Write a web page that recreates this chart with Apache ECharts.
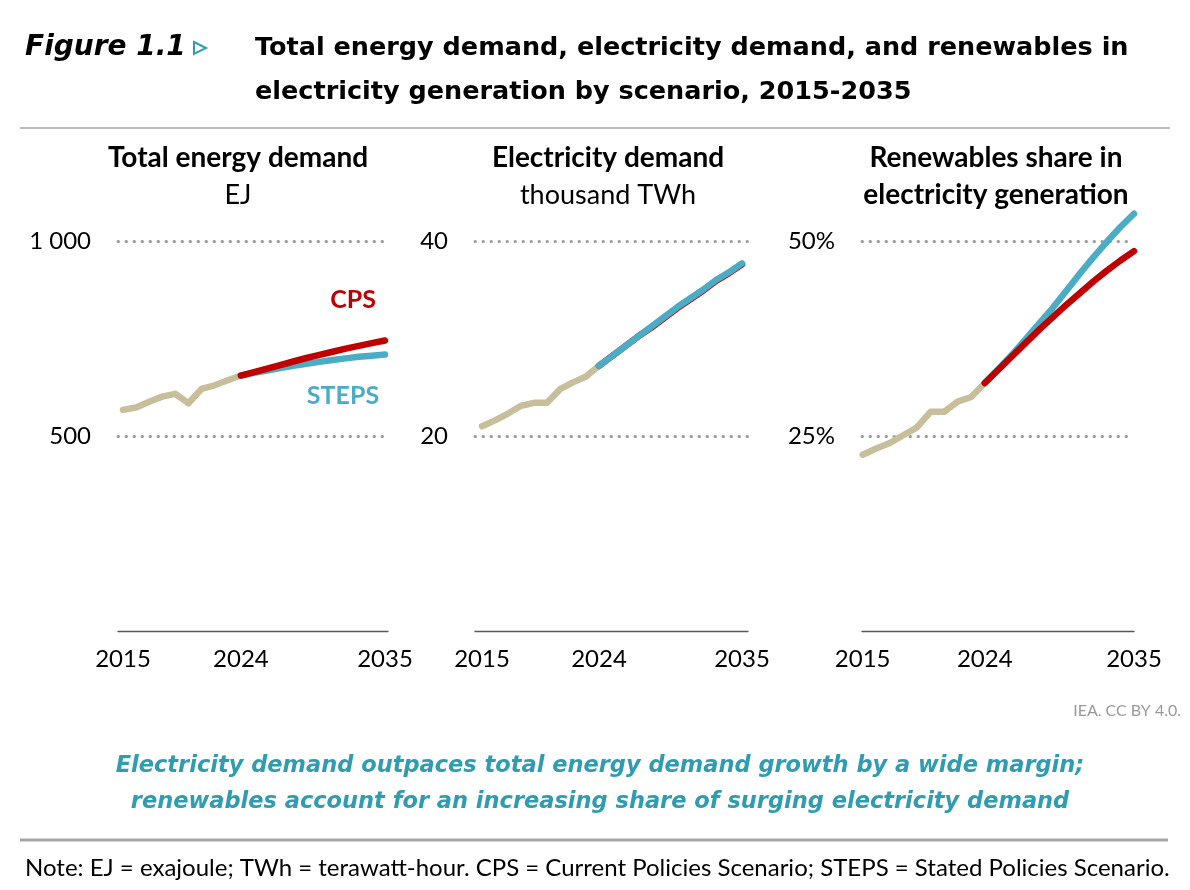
<!DOCTYPE html>
<html><head><meta charset="utf-8">
<script src="https://cdn.jsdelivr.net/npm/echarts@6/dist/echarts.min.js"></script>
<style>html,body{margin:0;padding:0;background:#fff}#c{width:1190px;height:890px}</style>
</head><body><div id="c"></div>
<script>
// ---- data ----
const histYears = [2015,2016,2017,2018,2019,2020,2021,2022,2023,2024];
const projYears = [2024,2025,2026,2027,2028,2029,2030,2031,2032,2033,2034,2035];
const xTickLabels = [2015, 2024, 2035];

const energyHist  = [567,573,588,601,608,584,621,630,643,655];
const energyCPS   = [655,664,673,682,691,700,708,716,724,731,738,745];
const energySTEPS = [655,662,668,674,680,685,690,695,699,703,706,709];

const elecHist  = [21.0,21.6,22.3,23.1,23.4,23.4,24.8,25.5,26.1,27.2];
const elecCPS   = [27.2,28.2,29.2,30.2,31.1,32.1,33.1,34.0,34.9,35.9,36.7,37.6];
const elecSTEPS = [27.2,28.2,29.2,30.2,31.2,32.2,33.2,34.1,35.0,36.0,36.8,37.7];

const renHist  = [22.6,23.4,24.1,25.1,26.1,28.1,28.1,29.4,30.0,31.8];
const renCPS   = [31.8,33.5,35.2,36.9,38.6,40.2,41.8,43.3,44.8,46.2,47.5,48.7];
const renSTEPS = [31.8,33.6,35.4,37.4,39.4,41.4,43.6,45.8,47.9,49.9,51.8,53.5];

// ---- styles ----
const C_HIST = '#C7BE9C', C_CPS = '#C00000', C_STEPS = '#4BACC6';
const FONT = 'Lato';
const zip = (xs, ys) => xs.map((x, i) => [x, ys[i]]);

const panels = [
  {left:118, width:270, xmin:2014.62, xmax:2035.23, ymax:1000, step:500,
   fmt: v => v === 1000 ? '1 000' : String(v),
   series:[['hist',energyHist],['steps',energySTEPS],['cps',energyCPS]]},
  {left:475, width:273, xmin:2014.46, xmax:2035.46, ymax:40, step:20,
   fmt: v => String(v),
   series:[['hist',elecHist],['cps',elecCPS],['steps',elecSTEPS]]},
  {left:862, width:272, xmin:2014.95, xmax:2035.0, ymax:50, step:25,
   fmt: v => v + '%',
   series:[['hist',renHist],['steps',renSTEPS],['cps',renCPS]]}
];

const grid = [], xAxis = [], yAxis = [], series = [];
panels.forEach((p, i) => {
  grid.push({left:p.left, width:p.width, top:241, height:390});
  xAxis.push({type:'value', gridIndex:i, min:p.xmin, max:p.xmax,
    axisLine:{show:true, lineStyle:{color:'#595959', width:1.3}},
    axisTick:{show:false}, splitLine:{show:false},
    axisLabel:{customValues:xTickLabels, color:'#000', fontFamily:FONT, fontSize:24, margin:16,
      formatter: v => String(v)}});
  yAxis.push({type:'value', gridIndex:i, min:0, max:p.ymax, interval:p.step,
    axisLine:{show:false}, axisTick:{show:false},
    splitLine:{show:true, showMinLine:false, lineStyle:{color:'#9E9E9E', type:[0.5,7.5], width:3, cap:'round'}},
    axisLabel:{color:'#000', fontFamily:FONT, fontSize:24, margin:27,
      formatter: v => v === 0 ? '' : p.fmt(v)}});
  p.series.forEach(([k, arr]) => {
    const xs = k === 'hist' ? histYears : projYears;
    const col = k === 'hist' ? C_HIST : (k === 'cps' ? C_CPS : C_STEPS);
    series.push({type:'line', xAxisIndex:i, yAxisIndex:i, data:zip(xs, arr),
      showSymbol:false, symbol:'none', clip:false, smooth:false, silent:true,
      lineStyle:{color:col, width:6.5, cap:'round', join:'round'}});
  });
});

const txt = (x, y, text, font, fill, align) => ({type:'text', x, y,
  style:{text, font, fill: fill || '#000', textAlign: align || 'left', textVerticalAlign:'middle'}});

const graphic = [
  txt(25, 48, 'Figure 1.1', 'italic bold 28px "DejaVu Sans"'),
  {type:'polygon', shape:{points:[[194,42],[206,48],[194,54]]}, style:{fill:'none', stroke:'#2F9CB0', lineWidth:2}},
  txt(255, 48, 'Total energy demand, electricity demand, and renewables in', 'bold 25.5px "DejaVu Sans"'),
  txt(255, 92, 'electricity generation by scenario, 2015-2035', 'bold 25.5px "DejaVu Sans"'),
  {type:'line', shape:{x1:20, y1:128, x2:1170, y2:128}, style:{stroke:'#A6A6A6', lineWidth:1.5}},
  txt(238, 158, 'Total energy demand', 'bold 28px ' + FONT, '#000', 'center'),
  txt(238, 195, 'EJ', '27px ' + FONT, '#000', 'center'),
  txt(608, 158, 'Electricity demand', 'bold 28px ' + FONT, '#000', 'center'),
  txt(608, 195, 'thousand TWh', '27px ' + FONT, '#000', 'center'),
  txt(996, 158, 'Renewables share in', 'bold 28px ' + FONT, '#000', 'center'),
  txt(996, 195, 'electricity generation', 'bold 28px ' + FONT, '#000', 'center'),
  txt(353, 300, 'CPS', 'bold 25px ' + FONT, C_CPS, 'center'),
  txt(343, 396, 'STEPS', 'bold 25px ' + FONT, C_STEPS, 'center'),
  txt(1181, 711, 'IEA. CC BY 4.0.', '16px ' + FONT, '#999999', 'right'),
  txt(600, 766, 'Electricity demand outpaces total energy demand growth by a wide margin;', 'italic bold 22.5px "DejaVu Sans"', '#2F9CB0', 'center'),
  txt(600, 802, 'renewables account for an increasing share of surging electricity demand', 'italic bold 22.5px "DejaVu Sans"', '#2F9CB0', 'center'),
  {type:'line', shape:{x1:20, y1:840, x2:1168, y2:840}, style:{stroke:'#A6A6A6', lineWidth:3}},
  txt(25, 868, 'Note: EJ = exajoule; TWh = terawatt-hour. CPS = Current Policies Scenario; STEPS = Stated Policies Scenario.', '24px ' + FONT)
];

const chart = echarts.init(document.getElementById('c'), null, {renderer:'canvas'});
chart.setOption({animation:false, backgroundColor:'#fff', grid, xAxis, yAxis, series, graphic});
</script>
</body></html>
